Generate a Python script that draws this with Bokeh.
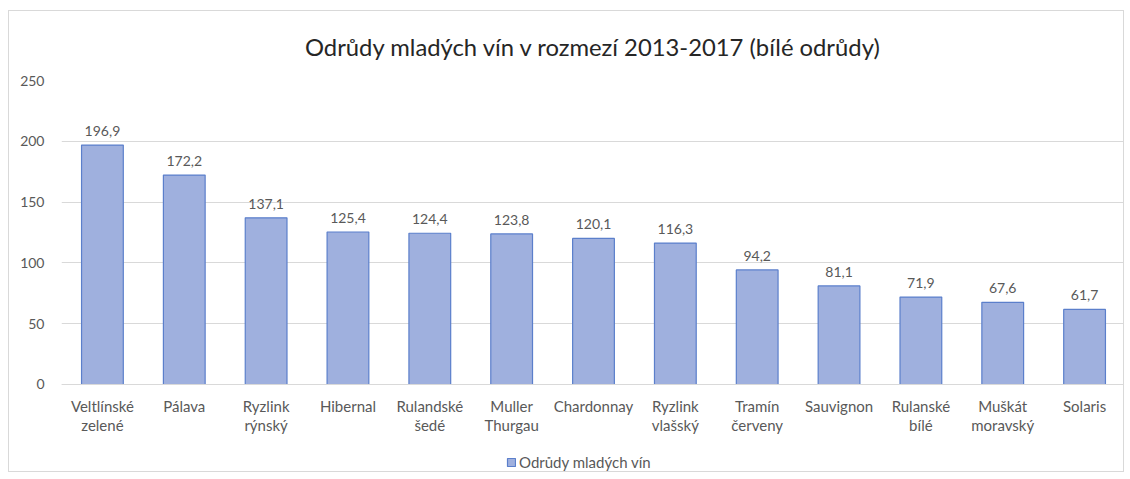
from bokeh.plotting import figure
from bokeh.models import ColumnDataSource, LabelSet, Legend, LegendItem, FactorRange, Range1d
from bokeh.core.properties import value
from bokeh.embed import file_html
from bokeh.resources import INLINE

varieties = ["Veltlínské\nzelené", "Pálava", "Ryzlink\nrýnský", "Hibernal", "Rulandské\nšedé",
             "Muller\nThurgau", "Chardonnay", "Ryzlink\nvlašský", "Tramín\nčerveny", "Sauvignon",
             "Rulanské\nbílé", "Muškát\nmoravský", "Solaris"]
values = [196.9, 172.2, 137.1, 125.4, 124.4, 123.8, 120.1, 116.3, 94.2, 81.1, 71.9, 67.6, 61.7]
labels = [f"{v:.1f}".replace(".", ",") for v in values]
y_ticks = [0, 50, 100, 150, 200, 250]
title_text = "Odrůdy mladých vín v rozmezí 2013-2017 (bílé odrůdy)"
series_name = "Odrůdy mladých vín"

FONT = "Lato"
GREY = "#595959"

src = ColumnDataSource(dict(x=varieties, top=values, lab=labels))

# frame extends below zero so the legend row sits inside the frame
p = figure(width=1116, height=462, x_range=FactorRange(*varieties, range_padding=0),
           y_range=Range1d(-73.2, 250), output_backend="svg", toolbar_location=None,
           min_border_left=52, min_border_right=0, min_border_top=68, min_border_bottom=0)
p.styles = {"border": "1px solid #d9d9d9", "margin-left": "8px", "margin-top": "10px"}
p.outline_line_color = None

p.title.text = title_text
p.title.align = "center"
p.title.text_font = FONT
p.title.text_font_size = "23.8px"
p.title.text_font_style = "normal"
p.title.text_color = "#262626"
p.title.offset = -15
p.title.standoff = 39

r = p.vbar(x="x", top="top", width=0.51, source=src, fill_color="#9fb0de",
           line_color="#5b7fcb", line_width=1.2)

p.add_layout(LabelSet(x="x", y="top", text="lab", source=src, y_offset=9,
                      text_align="center", text_baseline="bottom", text_font=value(FONT),
                      text_font_size="14px", text_color=GREY))

p.yaxis.ticker = y_ticks
p.yaxis.axis_line_color = None
p.yaxis.major_tick_line_color = None
p.yaxis.minor_tick_line_color = None
p.yaxis.major_label_text_font = FONT
p.yaxis.major_label_text_font_size = "14px"
p.yaxis.major_label_text_color = GREY
p.yaxis.major_label_standoff = 11

p.xaxis.fixed_location = 0
p.xaxis.axis_line_color = "#d9d9d9"
p.xaxis.major_tick_line_color = None
p.xaxis.minor_tick_line_color = None
p.xaxis.major_label_text_font = FONT
p.xaxis.major_label_text_font_size = "15px"
p.xaxis.major_label_text_color = GREY
p.xaxis.major_label_text_line_height = 1.05
p.xaxis.major_label_standoff = 7

p.xgrid.grid_line_color = None
p.ygrid.grid_line_color = "#d9d9d9"

legend = Legend(items=[LegendItem(label=series_name, renderers=[r])], orientation="horizontal",
                location=(445, 2), label_text_font=FONT, label_text_font_size="15px",
                label_text_color=GREY, glyph_width=10, glyph_height=10, label_standoff=3,
                border_line_color=None, background_fill_alpha=0, padding=0, margin=0)
p.add_layout(legend, "center")

open("out.html", "w").write(file_html(p, INLINE))
